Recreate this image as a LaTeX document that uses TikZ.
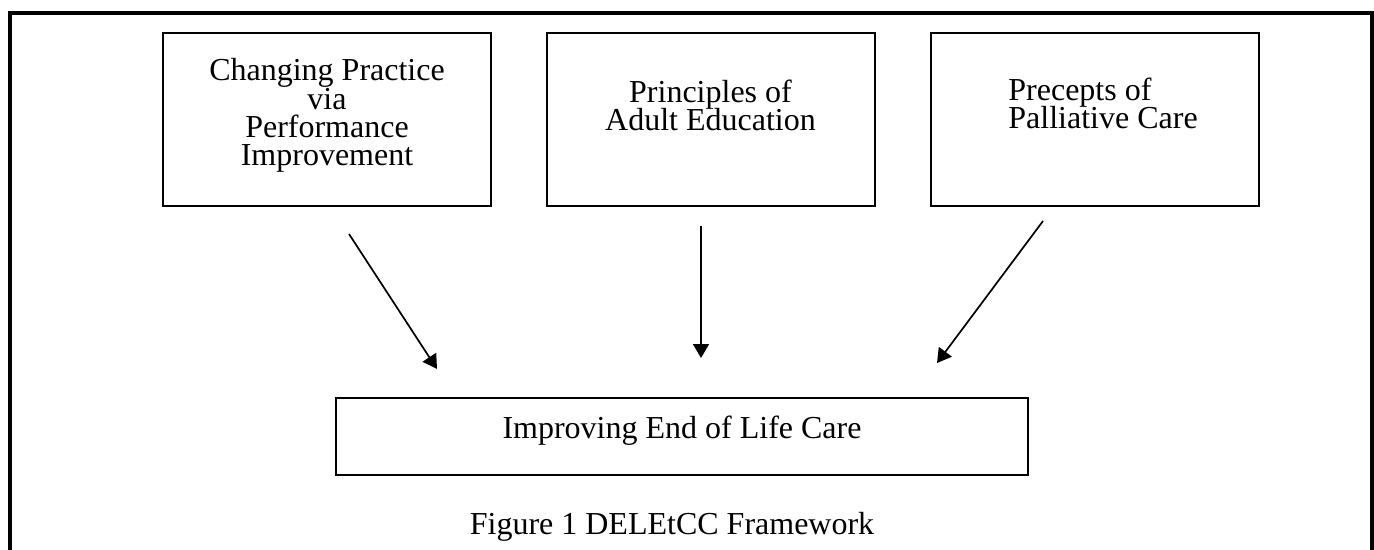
\documentclass[tikz,border=0pt]{standalone}
\usepackage{fontspec}
\setmainfont{Liberation Serif}
\usetikzlibrary{arrows.meta,calc}

\begin{document}
\begin{tikzpicture}[x=0.5pt,y=-0.5pt,
  box/.style={draw,line width=1pt,minimum width=164pt,minimum height=86.5pt,inner sep=0pt},
  boxtext/.style={font={\fontsize{16}{14.2}\selectfont\lineskiplimit=-10pt},inner sep=0pt},
  flow/.style={-{Triangle[length=7pt,width=8pt]},line width=0.85pt}]
  \useasboundingbox (0,0) rectangle (1374,550);
  \draw[line width=2.2pt] (10,550) |- (1372,13) -- (1372,550);
  \node[box] (practice) at (327,119.5) {};
  \node[box] (adulted) at (710.5,119.5) {};
  \node[box] (palliative) at (1095,119.5) {};
  \node[box,minimum width=346pt,minimum height=38.5pt] (endlife) at (682,436.5) {};
  \node[boxtext,align=center,anchor=base] (practicetxt) at ([shift={(0,134)}]practice.north)
    {Changing Practice\\via\\Performance\\Improvement};
  \node[boxtext,align=center,anchor=base] (adultedtxt) at ([shift={(0,99)}]adulted.north)
    {Principles of\\Adult Education};
  \node[boxtext,align=left,anchor=base west] (palliativetxt) at ([shift={(78,97)}]palliative.north west)
    {Precepts of\\Palliative Care};
  \node[boxtext,anchor=base] (endlifetxt) at ([shift={(0,1.5)}]endlife.center) {Improving End of Life Care};
  \node[boxtext,anchor=base] (caption) at ([shift={(-10,58)}]endlife.south) {Figure 1 DELEtCC Framework};
  \coordinate (s1) at ([shift={(22,27)}]practice.south);
  \coordinate (t1) at ([shift={(102,-28)}]endlife.north west);
  \coordinate (s2) at ([shift={(-9.5,19)}]adulted.south);
  \coordinate (t2) at ([shift={(19,-39)}]endlife.north);
  \coordinate (s3) at ([shift={(-52,14)}]palliative.south);
  \coordinate (t3) at ([shift={(-92,-34)}]endlife.north east);
  \draw[flow] (s1) -- (t1);
  \draw[flow] (s2) -- (t2);
  \draw[flow] (s3) -- (t3);
\end{tikzpicture}
\end{document}
